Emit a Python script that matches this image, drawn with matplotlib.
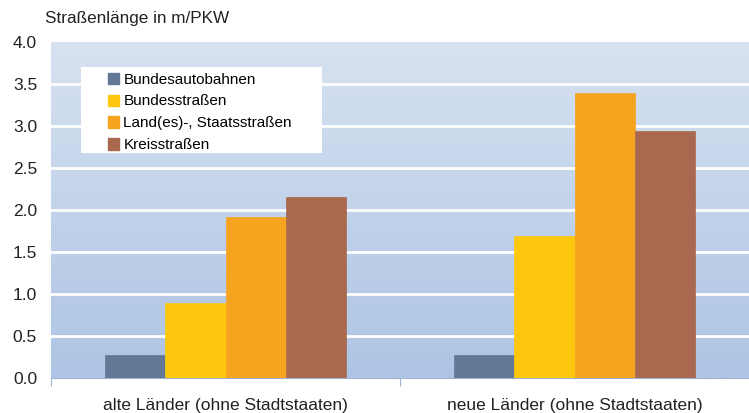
import numpy as np
import matplotlib.pyplot as plt
from matplotlib.patches import Patch, Rectangle

plt.rcParams['font.family'] = ['Liberation Sans', 'DejaVu Sans']

# data
groups = ['alte Länder (ohne Stadtstaaten)', 'neue Länder (ohne Stadtstaaten)']
series = ['Bundesautobahnen', 'Bundesstraßen', 'Land(es)-, Staatsstraßen', 'Kreisstraßen']
values = [
    [0.27, 0.27],   # Bundesautobahnen
    [0.89, 1.69],   # Bundesstraßen
    [1.92, 3.39],   # Land(es)-, Staatsstraßen
    [2.15, 2.94],   # Kreisstraßen
]
colors = ['#637797', '#fdc70e', '#f6a41f', '#a9694e']
yticks = [0.0, 0.5, 1.0, 1.5, 2.0, 2.5, 3.0, 3.5, 4.0]

fig = plt.figure(figsize=(7.49, 4.13), dpi=100)
ax = fig.add_axes([51 / 749, 35 / 413, 698 / 749, 336 / 413])

# gradient background
grad = np.linspace(0, 1, 256).reshape(-1, 1)
c_top = np.array([0xd7, 0xe2, 0xf0]) / 255
c_bot = np.array([0xad, 0xc4, 0xe4]) / 255
img = c_bot + (c_top - c_bot) * grad
ax.imshow(img[:, None, :].repeat(2, axis=1), extent=[-0.5, 1.5, 0, 4.0],
          origin='lower', aspect='auto', zorder=0)

x = np.arange(len(groups))
w = 0.1733
for i, (name, vals, col) in enumerate(zip(series, values, colors)):
    ax.bar(x + (i - 1.5) * w, vals, width=w, color=col, label=name, zorder=3,
           edgecolor=col, linewidth=0.5)

ax.set_xlim(-0.5, 1.5)
ax.set_ylim(0, 4.0)
ax.set_yticks(yticks)
ax.set_yticklabels([f'{t:.1f}' for t in yticks], fontsize=12.5)
for t in yticks[1:-1]:
    ax.axhline(t, color='white', lw=2, zorder=1)

ax.set_xticks([-0.5, 0.5])
ax.set_xticklabels([])
ax.tick_params(axis='x', direction='out', length=6, color='#9fb3d3', width=0.8)
ax.tick_params(axis='y', length=0, pad=10, labelcolor='#222222')
for g, xc in zip(groups, x):
    ax.text(xc, -0.33, g, ha='center', va='center', fontsize=12.5, color='#222222')

for s in ['top', 'right', 'left']:
    ax.spines[s].set_visible(False)
ax.spines['bottom'].set_color('#9fb3d3')

fig.text(45 / 749, 1 - 18 / 413, 'Straßenlänge in m/PKW', fontsize=12.3,
         va='center', ha='left', color='#222222')

# legend: white box plus frameless legend
ax.add_patch(Rectangle(((81 - 51) / 698, (378 - 153) / 336), 241 / 698, 86 / 336,
                       transform=ax.transAxes, facecolor='white', edgecolor='none',
                       zorder=4))
handles = [Patch(facecolor=c, edgecolor=c) for c in colors]
leg = ax.legend(handles, series, loc='upper left',
                bbox_to_anchor=((108 - 51) / 698, (378 - 72.5) / 336),
                frameon=False, fontsize=11, handlelength=0.75, handleheight=0.75,
                handletextpad=0.25, borderpad=0, labelspacing=0.52, borderaxespad=0)
leg.set_zorder(5)

fig.savefig('out.png', dpi=100)
